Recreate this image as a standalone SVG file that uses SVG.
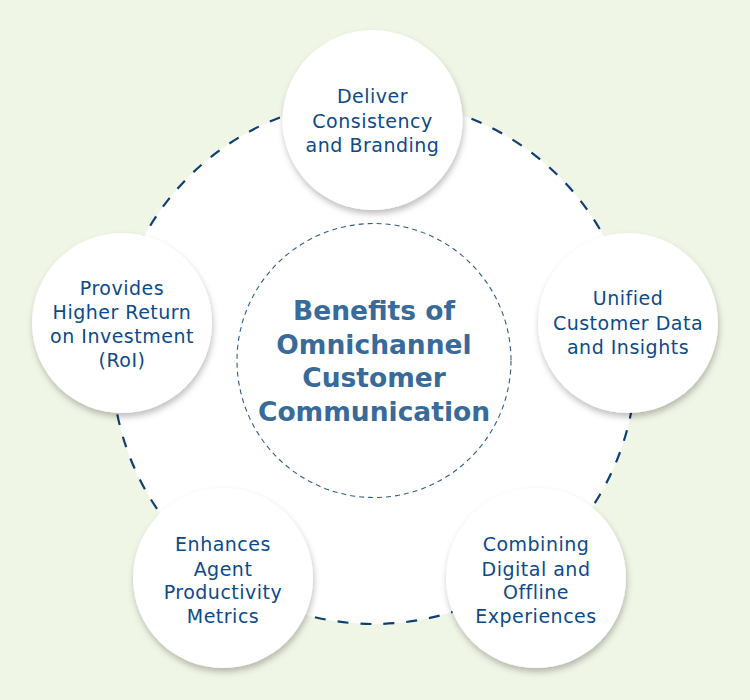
<svg xmlns="http://www.w3.org/2000/svg" width="750" height="700" viewBox="0 0 750 700">
<defs>
<filter id="sh" x="-20%" y="-20%" width="140%" height="140%">
<feDropShadow dx="1" dy="4" stdDeviation="3" flood-color="#000" flood-opacity="0.25"/>
</filter>
<style>
.node{fill:#fff;filter:url(#sh)}
.lbl{font-family:"DejaVu Sans","Noto Sans",sans-serif;font-size:19px;letter-spacing:0.5px;fill:#0d4a89;text-anchor:middle}
.title{font-family:"DejaVu Sans","Noto Sans",sans-serif;font-size:26.5px;font-weight:bold;fill:#386a9a;text-anchor:middle}
</style>
</defs>
<rect width="750" height="700" fill="#f0f6e6"/>
<g id="connectors">
<circle cx="374" cy="362" r="262" fill="#fff" stroke="#0e3f72" stroke-width="2.2" stroke-dasharray="11 12"/>
</g>
<g id="center">
<circle cx="374" cy="360.5" r="137" fill="#fff" stroke="#2d5d8e" stroke-width="1.1" stroke-dasharray="5 4"/>
<text class="title" x="374" y="320">Benefits of</text>
<text class="title" x="374" y="353.5">Omnichannel</text>
<text class="title" x="374" y="387">Customer</text>
<text class="title" x="374" y="421">Communication</text>
</g>
<g id="n-top">
<circle class="node" cx="372.5" cy="120" r="90"/>
<text class="lbl" x="372.5" y="103">Deliver</text>
<text class="lbl" x="372.5" y="127.5">Consistency</text>
<text class="lbl" x="372.5" y="152">and Branding</text>
</g>
<g id="n-right">
<circle class="node" cx="628" cy="323" r="90"/>
<text class="lbl" x="628" y="305">Unified</text>
<text class="lbl" x="628" y="329.5">Customer Data</text>
<text class="lbl" x="628" y="353.5">and Insights</text>
</g>
<g id="n-left">
<circle class="node" cx="122" cy="323" r="90"/>
<text class="lbl" x="122" y="295">Provides</text>
<text class="lbl" x="122" y="319">Higher Return</text>
<text class="lbl" x="122" y="343">on Investment</text>
<text class="lbl" x="122" y="367">(RoI)</text>
</g>
<g id="n-bl">
<circle class="node" cx="223" cy="578" r="90"/>
<text class="lbl" x="223" y="551">Enhances</text>
<text class="lbl" x="223" y="575.5">Agent</text>
<text class="lbl" x="223" y="599">Productivity</text>
<text class="lbl" x="223" y="623">Metrics</text>
</g>
<g id="n-br">
<circle class="node" cx="536" cy="578" r="90"/>
<text class="lbl" x="536" y="551">Combining</text>
<text class="lbl" x="536" y="575.5">Digital and</text>
<text class="lbl" x="536" y="599">Offline</text>
<text class="lbl" x="536" y="623">Experiences</text>
</g>
</svg>
